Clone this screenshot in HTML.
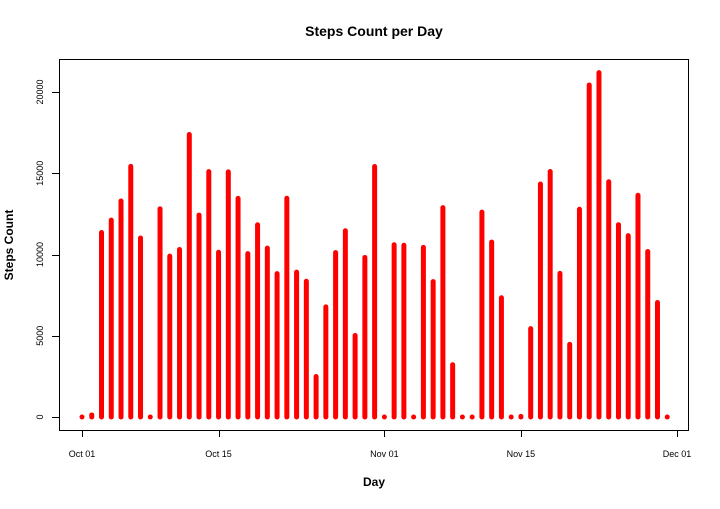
<!DOCTYPE html>
<html><head><meta charset="utf-8"><style>
body{margin:0;background:#fff}
svg text{font-family:"Liberation Sans",Arial,sans-serif}
</style></head><body>
<svg id="chart" width="720" height="504" xmlns="http://www.w3.org/2000/svg">
<rect width="720" height="504" fill="#fff"/>
<text x="374" y="36" text-anchor="middle" font-size="14" font-weight="bold">Steps Count per Day</text>
<text x="374" y="486" text-anchor="middle" font-size="12" font-weight="bold">Day</text>
<text transform="translate(13,245) rotate(-90)" text-anchor="middle" font-size="12" font-weight="bold">Steps Count</text>
<rect x="59.5" y="59.5" width="629" height="371" fill="none" stroke="#000"/>
<g id="bars"></g>
<g id="axes"></g>
</svg>
<script>
const dayOffsets=[];for(let i=0;i<61;i++)dayOffsets.push(i);
const steps=[0,126,11352,12116,13294,15420,11015,0,12811,9900,10304,17382,12426,15098,10139,15084,13452,10056,11829,10395,8821,13460,8918,8355,2492,6778,10119,11458,5018,9819,15414,0,10600,10571,0,10439,8334,12883,3219,0,0,12608,10765,7336,0,41,5441,14339,15110,8841,4472,12787,20427,21194,14478,11834,11162,13646,10183,7047,0];
const yTicks=[0,5000,10000,15000,20000];
const xTickDays=[0,14,31,45,61];
const xTickLabels=["Oct 01","Oct 15","Nov 01","Nov 15","Dec 01"];
const NS="http://www.w3.org/2000/svg";
const x=d=>82+d*(677-82)/61;
const y=v=>417-v*(417-92)/20000;
const bars=document.getElementById('bars'),axes=document.getElementById('axes');
function mk(t,a,p){const e=document.createElementNS(NS,t);for(const k in a)e.setAttribute(k,a[k]);p.appendChild(e);return e;}
steps.forEach((v,i)=>{
 const l=mk('line',{x1:x(dayOffsets[i]),x2:x(dayOffsets[i]),y1:y(0),y2:y(v),stroke:'#ff0000','stroke-width':5,'stroke-linecap':'round'},bars);
 
 
});
const ya=mk('line',{x1:59.5,x2:59.5,y1:y(0),y2:y(20000),stroke:'#000'},axes);


yTicks.forEach(v=>{
 mk('line',{x1:52,x2:59.5,y1:Math.round(y(v))+.5,y2:Math.round(y(v))+.5,stroke:'#000'},axes);
 const t=mk('text',{transform:`translate(43,${y(v)}) rotate(-90)`,'text-anchor':'middle','font-size':9},axes);
 t.textContent=v;
 
 
});
const xa=mk('line',{x1:x(0),x2:x(61),y1:430.5,y2:430.5,stroke:'#000'},axes);


xTickDays.forEach((d,i)=>{
 mk('line',{x1:Math.round(x(d))+.5,x2:Math.round(x(d))+.5,y1:430.5,y2:437,stroke:'#000'},axes);
 const t=mk('text',{x:x(d),y:457,'text-anchor':'middle','font-size':9},axes);
 t.textContent=xTickLabels[i];
 
 
});
</script>
</body></html>
